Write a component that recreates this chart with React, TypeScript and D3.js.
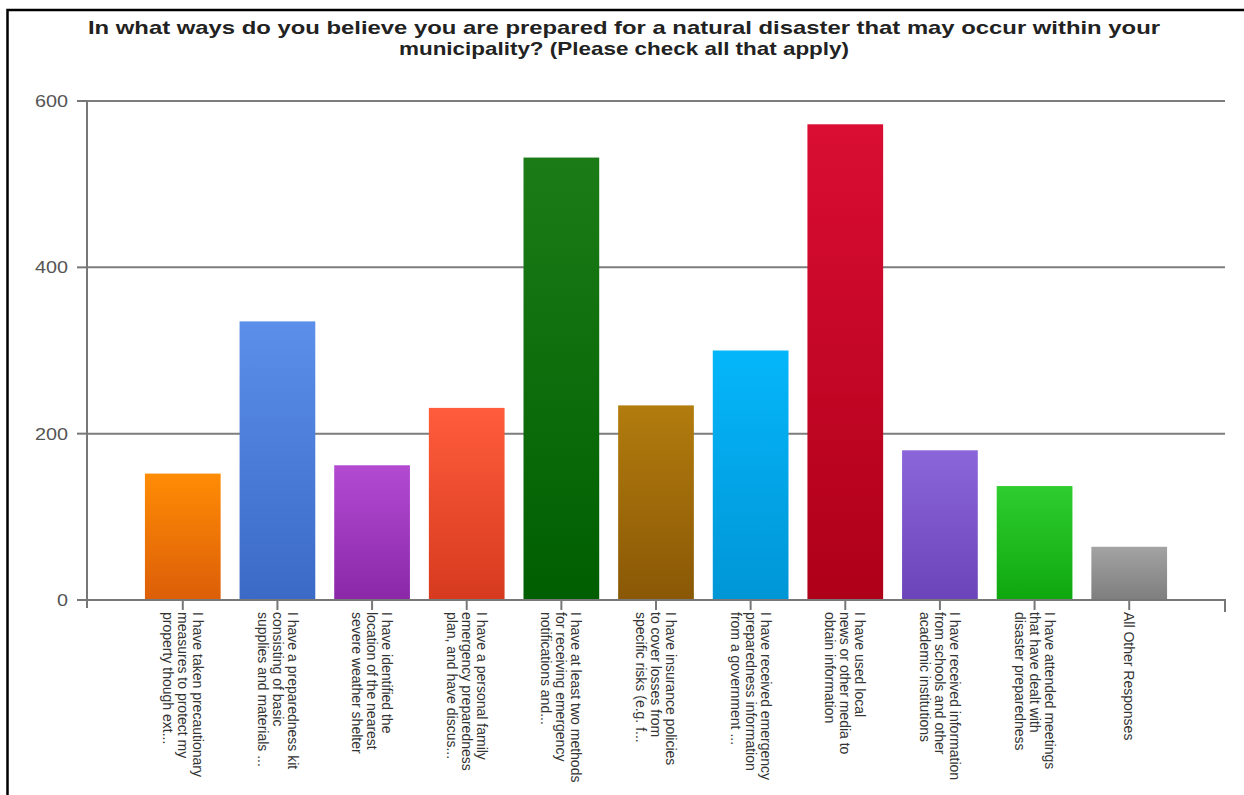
import React, { useEffect, useRef } from "react";
import * as d3 from "d3";

const titleLines = [
  "In what ways do you believe you are prepared for a natural disaster that may occur within your",
  "municipality? (Please check all that apply)",
];

const categories = [
  ["I have taken precautionary", "measures to protect my", "property though ext..."],
  ["I have a preparedness kit", "consisting of basic", "supplies and materials ..."],
  ["I have identified the", "location of the nearest", "severe weather shelter"],
  ["I have a personal family", "emergency preparedness", "plan, and have discus..."],
  ["I have at least two methods", "for receiving emergency", "notifications and..."],
  ["I have insurance policies", "to cover losses from", "specific risks (e.g. f..."],
  ["I have received emergency", "preparedness information", "from a government ..."],
  ["I have used local", "news or other media to", "obtain information"],
  ["I have received information", "from schools and other", "academic institutions"],
  ["I have attended meetings", "that have dealt with", "disaster preparedness"],
  ["All Other Responses"],
];

const values = [152, 335, 162, 231, 532, 234, 300, 572, 180, 137, 64];

const topColors = ["#ff8c05", "#5b8fea", "#b24ad2", "#ff5c3c", "#1b7c17", "#b27c0e", "#05b6fa", "#da0d33", "#8b66da", "#2fcd2f", "#a3a3a3"];
const bottomColors = ["#dc5e08", "#3a6ac6", "#8a28a8", "#d63a1e", "#005e00", "#8a5806", "#0096d6", "#ae0018", "#6a44b8", "#0ea80e", "#7e7e7e"];

const yTicks = [0, 200, 400, 600];

export default function App() {
  const ref = useRef<SVGSVGElement>(null);

  useEffect(() => {
    const svg = d3.select(ref.current);
    svg.selectAll("*").remove();

    const x = d3
      .scaleBand<number>()
      .domain(values.map((_, i) => i))
      .range([126, 1186])
      .paddingInner(0.2)
      .paddingOuter(0.2);
    const y = d3.scaleLinear().domain([0, 600]).range([600, 101]);

    const defs = svg.append("defs");
    values.forEach((_, i) => {
      const g = defs
        .append("linearGradient")
        .attr("id", `g${i}`)
        .attr("x1", 0)
        .attr("y1", 0)
        .attr("x2", 0)
        .attr("y2", 1);
      g.append("stop").attr("offset", "0%").attr("stop-color", topColors[i]);
      g.append("stop").attr("offset", "100%").attr("stop-color", bottomColors[i]);
    });

    svg.append("rect").attr("x", 0).attr("y", 0).attr("width", 1244).attr("height", 795).attr("fill", "#fff");

    // frame
    svg
      .append("path")
      .attr("d", "M7.5,800 L7.5,10 L1250,10")
      .attr("fill", "none")
      .attr("stroke", "#000")
      .attr("stroke-width", 2.5);

    // title
    const title = svg
      .append("text")
      .attr("font-family", "Liberation Sans, Arial, sans-serif")
      .attr("font-weight", "bold")
      .attr("font-size", 19)
      .attr("fill", "#222")
      .attr("text-anchor", "middle");
    titleLines.forEach((t, i) => {
      title
        .append("tspan")
        .attr("x", 624)
        .attr("y", 34 + i * 21)
        .attr("textLength", i === 0 ? 1072 : 450)
        .attr("lengthAdjust", "spacingAndGlyphs")
        .text(t);
    });

    // gridlines
    svg
      .append("g")
      .selectAll("line")
      .data(yTicks.filter((d) => d > 0))
      .join("line")
      .attr("x1", 87)
      .attr("x2", 1225)
      .attr("y1", (d) => y(d))
      .attr("y2", (d) => y(d))
      .attr("stroke", "#7d7d7d")
      .attr("stroke-width", 2);

    // bars
    svg
      .append("g")
      .selectAll("rect")
      .data(values)
      .join("rect")
      .attr("x", (_, i) => x(i)!)
      .attr("width", x.bandwidth())
      .attr("y", (d) => y(d))
      .attr("height", (d) => y(0) - y(d))
      .attr("fill", (_, i) => `url(#g${i})`);

    // y axis
    const axisColor = "#777";
    svg
      .append("line")
      .attr("x1", 87)
      .attr("x2", 87)
      .attr("y1", y(600))
      .attr("y2", y(0) + 8)
      .attr("stroke", axisColor)
      .attr("stroke-width", 2);
    svg
      .append("g")
      .selectAll("line")
      .data(yTicks)
      .join("line")
      .attr("x1", 77)
      .attr("x2", 87)
      .attr("y1", (d) => y(d))
      .attr("y2", (d) => y(d))
      .attr("stroke", axisColor)
      .attr("stroke-width", 2);
    svg
      .append("g")
      .selectAll("text")
      .data(yTicks)
      .join("text")
      .attr("x", 68)
      .attr("y", (d) => y(d))
      .attr("dy", "0.35em")
      .attr("text-anchor", "end")
      .attr("font-family", "Liberation Sans, Arial, sans-serif")
      .attr("font-size", 17)
      .attr("fill", "#555")
      .attr("textLength", (d) => (d === 0 ? 11 : 33))
      .attr("lengthAdjust", "spacingAndGlyphs")
      .text((d) => String(d));

    // x axis
    svg
      .append("path")
      .attr("d", `M87,${y(0)} L1225,${y(0)} L1225,${y(0) + 12}`)
      .attr("fill", "none")
      .attr("stroke", axisColor)
      .attr("stroke-width", 2);
    svg
      .append("g")
      .selectAll("line")
      .data(values)
      .join("line")
      .attr("x1", (_, i) => x(i)! + x.bandwidth() / 2)
      .attr("x2", (_, i) => x(i)! + x.bandwidth() / 2)
      .attr("y1", y(0))
      .attr("y2", y(0) + 10)
      .attr("stroke", axisColor)
      .attr("stroke-width", 2);

    // x labels
    const lh = 15;
    const fs = 14;
    const labels = svg
      .append("g")
      .selectAll("text")
      .data(categories)
      .join("text")
      .attr("transform", (_, i) => `translate(${x(i)! + x.bandwidth() / 2},612) rotate(90)`)
      .attr("font-family", "Liberation Sans, Arial, sans-serif")
      .attr("font-size", fs)
      .attr("fill", "#333");
    labels.each(function (lines) {
      const t = d3.select(this);
      const n = lines.length;
      lines.forEach((l, j) => {
        t.append("tspan")
          .attr("x", 0)
          .attr("y", (j - (n - 1) / 2) * lh + fs * 0.35)
          .text(l);
      });
    });
  }, []);

  return (
    <>
      <style>{`body{margin:0}`}</style>
      <svg ref={ref} width={1244} height={795} style={{ display: "block" }} />
    </>
  );
}
